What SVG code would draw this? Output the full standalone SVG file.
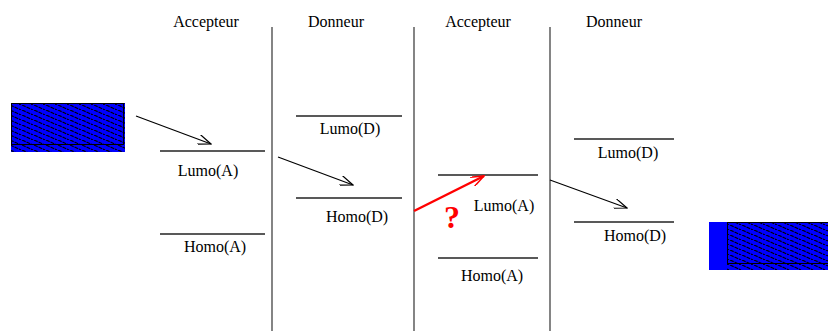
<svg xmlns="http://www.w3.org/2000/svg" width="828" height="331" viewBox="0 0 828 331">
<style>
text{font-family:"Liberation Serif","Times New Roman",serif;font-size:16px;fill:#000;text-anchor:middle}
.lvl{stroke:#222;stroke-width:1.3}
.sep{stroke:#333;stroke-width:1.2}
.arr{stroke:#000;stroke-width:1.2;fill:none}
</style>
<defs>
<pattern id="hatch" width="12" height="5" patternUnits="userSpaceOnUse">
<rect width="12" height="5" fill="#0000ff"/>
<path d="M-2,0 L9,5 M10,0 L21,5 M-14,0 L-3,5" stroke="#000" stroke-width="1.2" stroke-dasharray="4,1"/>
</pattern>
<marker id="ah" markerWidth="14" markerHeight="10" refX="13" refY="5" orient="auto" markerUnits="userSpaceOnUse">
<path d="M0,0 L13,5 L0,10" fill="none" stroke="#000" stroke-width="1.2"/>
</marker>
<marker id="ahr" markerWidth="14" markerHeight="10" refX="13" refY="5" orient="auto" markerUnits="userSpaceOnUse">
<path d="M0,0 L13,5 L0,10" fill="none" stroke="#f00" stroke-width="1.5"/>
</marker>
</defs>
<g id="separators">
<line class="sep" x1="272" y1="27" x2="272" y2="331"/>
<line class="sep" x1="414" y1="27" x2="414" y2="331"/>
<line class="sep" x1="550" y1="27" x2="550" y2="331"/>
</g>
<g id="headers">
<text x="206" y="27">Accepteur</text>
<text x="336" y="27">Donneur</text>
<text x="478" y="27">Accepteur</text>
<text x="614" y="27">Donneur</text>
</g>
<g id="source">
<rect x="11" y="103" width="114" height="49" fill="url(#hatch)"/>
<rect x="11.5" y="103.5" width="112" height="41" fill="none" stroke="#000" stroke-width="1"/>
</g>
<g id="drain">
<rect x="709" y="222" width="119" height="48" fill="#0000ff"/>
<rect x="727" y="222" width="101" height="48" fill="url(#hatch)"/>
<rect x="727.5" y="222.5" width="101" height="41" fill="none" stroke="#000" stroke-width="1"/>
</g>
<g id="lumoA1"><line class="lvl" x1="160" y1="151" x2="265" y2="151"/><text x="208" y="176">Lumo(A)</text></g>
<g id="homoA1"><line class="lvl" x1="160" y1="234" x2="265" y2="234"/><text x="215" y="252">Homo(A)</text></g>
<g id="lumoD1"><line class="lvl" x1="296" y1="116" x2="402" y2="116"/><text x="350" y="134">Lumo(D)</text></g>
<g id="homoD1"><line class="lvl" x1="296" y1="198" x2="402" y2="198"/><text x="357" y="222">Homo(D)</text></g>
<g id="lumoA2"><line class="lvl" x1="438" y1="175" x2="538" y2="175"/><text x="504" y="211">Lumo(A)</text></g>
<g id="homoA2"><line class="lvl" x1="438" y1="258" x2="538" y2="258"/><text x="492" y="281">Homo(A)</text></g>
<g id="lumoD2"><line class="lvl" x1="574" y1="139" x2="674" y2="139"/><text x="628" y="158">Lumo(D)</text></g>
<g id="homoD2"><line class="lvl" x1="574" y1="222" x2="674" y2="222"/><text x="635" y="241">Homo(D)</text></g>
<g id="connectors">
<line class="arr" x1="136" y1="116" x2="211" y2="144" marker-end="url(#ah)"/>
<line class="arr" x1="278" y1="157" x2="353" y2="185" marker-end="url(#ah)"/>
<line x1="414" y1="211" x2="484" y2="176" stroke="#f00" stroke-width="2.5" marker-end="url(#ahr)"/>
<line class="arr" x1="550" y1="180" x2="627" y2="208" marker-end="url(#ah)"/>
</g>
<text x="452" y="228" style="font-size:32px;font-weight:bold;fill:#f00">?</text>
</svg>
